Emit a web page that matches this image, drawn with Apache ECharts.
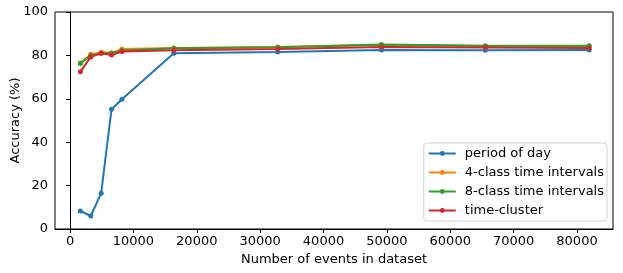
<!DOCTYPE html>
<html>
<head>
<meta charset="utf-8">
<script src="https://cdn.jsdelivr.net/npm/echarts@6/dist/echarts.min.js"></script>
<style>
html,body{margin:0;padding:0;background:#fff;}
#c{width:623px;height:273px;}
</style>
</head>
<body>
<div id="c"></div>
<script>
const datasetSizes = [1638, 3277, 4915, 6554, 8192, 16384, 32768, 49152, 65536, 81920];
const periodOfDay = [8.3, 6.0, 16.5, 55.2, 59.8, 81.0, 81.6, 82.5, 82.4, 82.5];
const fourClass = [76.5, 80.5, 81.4, 81.2, 82.9, 83.4, 83.9, 84.8, 84.3, 84.2];
const eightClass = [76.3, 80.0, 81.0, 81.0, 82.3, 83.3, 83.7, 85.0, 84.5, 84.5];
const timeCluster = [72.5, 79.3, 81.0, 80.2, 81.8, 82.4, 82.9, 83.9, 83.6, 83.4];
const xTicks = [0, 10000, 20000, 30000, 40000, 50000, 60000, 70000, 80000];
const yTicks = [0, 20, 40, 60, 80, 100];
const seriesNames = ['period of day', '4-class time intervals', '8-class time intervals', 'time-cluster'];
const seriesValues = [periodOfDay, fourClass, eightClass, timeCluster];
const colors = ['#1f77b4', '#ff7f0e', '#2ca02c', '#d62728'];

const font = 'DejaVu Sans';
const chart = echarts.init(document.getElementById('c'), null, {renderer: 'canvas'});
chart.setOption({
  animation: false,
  textStyle: {fontFamily: font},
  grid: {left: 55, right: 10, top: 12, bottom: 44, outerBoundsMode: 'none', containLabel: false,
         show: true, borderColor: '#000', borderWidth: 1, backgroundColor: 'transparent'},
  xAxis: {
    type: 'value', min: -2370, max: 85680,
    name: 'Number of events in dataset', nameLocation: 'middle', nameGap: 24, nameMoveOverlap: false,
    nameTextStyle: {fontFamily: font, fontSize: 13, color: '#000'},
    axisLine: {show: true, onZero: false, lineStyle: {color: '#000', width: 1}},
    axisTick: {show: true, length: 4, customValues: xTicks, lineStyle: {color: '#000'}},
    axisLabel: {customValues: xTicks, fontFamily: font, fontSize: 13, color: '#000', margin: 6,
                formatter: v => String(v)},
    splitLine: {show: false}
  },
  yAxis: {
    type: 'value', min: 0, max: 100, interval: 20,
    name: 'Accuracy (%)', nameLocation: 'middle', nameGap: 33, nameRotate: 90, nameMoveOverlap: false,
    nameTextStyle: {fontFamily: font, fontSize: 13, color: '#000'},
    axisLine: {show: true, lineStyle: {color: '#000', width: 1}},
    axisTick: {show: true, length: 4, customValues: yTicks, lineStyle: {color: '#000'}},
    axisLabel: {customValues: yTicks, fontFamily: font, fontSize: 13, color: '#000', margin: 7,
                formatter: v => String(v)},
    splitLine: {show: false}
  },
  legend: {
    orient: 'vertical', right: 16, top: 143,
    backgroundColor: 'rgba(255,255,255,0.8)', borderColor: '#d0d0d0', borderWidth: 1, borderRadius: 3,
    padding: [3, 3, 3, 4], itemGap: 4, itemWidth: 27, itemHeight: 6,
    textStyle: {fontFamily: font, fontSize: 13, color: '#000', padding: [0, 0, 0, 4], lineHeight: 15},
    data: seriesNames
  },
  series: seriesNames.map((n, i) => ({
    name: n, type: 'line',
    data: datasetSizes.map((x, j) => [x, seriesValues[i][j]]),
    color: colors[i],
    lineStyle: {width: 2, color: colors[i]},
    symbol: 'circle', symbolSize: 5, showSymbol: true,
    itemStyle: {color: colors[i]},
    z: 2 + i
  }))
});
</script>
</body>
</html>
